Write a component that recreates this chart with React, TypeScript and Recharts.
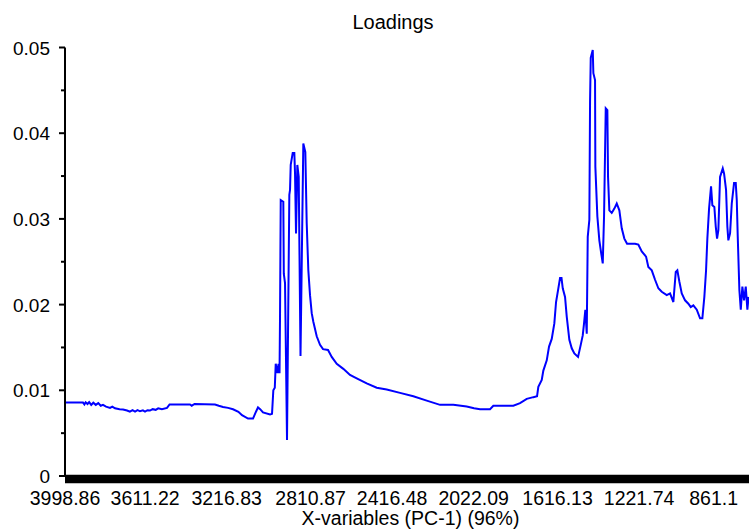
import { LineChart, Line, XAxis, YAxis } from "recharts";

// PC-1 loadings against wavenumber (cm-1), high to low
const wavenumber = [
  3998.9, 3911.8, 3905, 3899, 3890, 3882, 3872, 3862, 3850, 3838, 3826, 3815, 3800.5, 3781.2, 3770,
  3757, 3735, 3718.3, 3698.9, 3685, 3672, 3660, 3648, 3636, 3622, 3611.8, 3600, 3587.6, 3575, 3560,
  3548, 3530, 3505.4, 3493, 3394.1, 3386, 3372, 3273.2, 3255, 3234.5, 3210, 3186.1, 3160, 3142.6,
  3113.5, 3089.4, 3075, 3065.2, 3055, 3041, 3007.1, 2997.4, 2991.1, 2984, 2979.5, 2970.8, 2966,
  2961.1, 2958.7, 2955.3, 2942.8, 2940.4, 2934.5, 2924.9, 2913.7, 2910.3, 2907, 2897.3, 2889.5,
  2886.2, 2881.3, 2875, 2868.3, 2859.6, 2846, 2836.3, 2829.6, 2821.8, 2813.6, 2805.4, 2797.6, 2781.2,
  2765.2, 2750.7, 2726.5, 2708.6, 2684.4, 2652.5, 2620.1, 2587.7, 2539.3, 2490.9, 2442.5, 2378.2,
  2313.8, 2249.0, 2184.6, 2120.3, 2055.5, 2020, 1991.1, 1942.7, 1926.8, 1830.0, 1797.6, 1765.2,
  1733.3, 1715.4, 1709.1, 1692.6, 1684.9, 1668.4, 1657.3, 1644.3, 1631.7, 1623.4, 1612.3, 1604.1,
  1597, 1591.0, 1579.9, 1571.7, 1559.1, 1547.5, 1534.9, 1517.0, 1504.0, 1494.3, 1488.0, 1481.7,
  1474.9, 1470.1, 1462.3, 1458.9, 1455.6, 1445.9, 1442.9, 1434.8, 1433.3, 1423.6, 1414.0, 1405.7,
  1397.5, 1391.2, 1383.0, 1375.2, 1371.9, 1365.6, 1354.0, 1341.4, 1329.8, 1317.2, 1305.6, 1293.0,
  1279.9, 1241.2, 1225.3, 1208.8, 1188.0, 1176.9, 1160.4, 1144.5, 1128.5, 1112.1, 1087.9, 1071.9,
  1055.9, 1044.3, 1036.6, 1027.0, 1015.3, 999.3, 983.4, 971.8, 959.2, 942.7, 926.8, 915.6, 906.0,
  897.7, 891.5, 883.2, 873.6, 867.3, 857.6, 850.8, 844.5, 838.2, 830.0, 817.0, 810.7, 801.0, 794.7,
  789.9, 781.6, 773.4, 762.3, 754.1, 749.2, 744.4, 736.6, 729.8, 722.1, 713.9, 705.7, 697.9, 692.1,
];

const pc1Loading = [
  0.00857, 0.00857, 0.00835, 0.0086, 0.0084, 0.00862, 0.0083, 0.00855, 0.0083, 0.0085, 0.0082, 0.0083,
  0.0081, 0.00794, 0.0081, 0.0079, 0.00778, 0.00776, 0.00764, 0.0075, 0.00768, 0.00752, 0.00768,
  0.00755, 0.00766, 0.00752, 0.00768, 0.00764, 0.0078, 0.00772, 0.0079, 0.0078, 0.00794, 0.00834,
  0.00834, 0.0082, 0.0084, 0.00834, 0.0082, 0.00806, 0.00795, 0.00779, 0.0075, 0.00709, 0.0067,
  0.0067, 0.0075, 0.008, 0.0078, 0.00741, 0.00717, 0.00725, 0.01, 0.0103, 0.0131, 0.012, 0.0131,
  0.012, 0.0186, 0.0322, 0.032, 0.0236, 0.0225, 0.0042, 0.0328, 0.0334, 0.0363, 0.0377, 0.0377,
  0.0354, 0.0283, 0.0363, 0.0349, 0.014, 0.0388, 0.0378, 0.0295, 0.024, 0.0211, 0.019, 0.018, 0.0163,
  0.0153, 0.0148, 0.0147, 0.0139, 0.0131, 0.0125, 0.0118, 0.0114, 0.0108, 0.0103, 0.0101, 0.0097,
  0.0093, 0.0088, 0.0083, 0.0083, 0.0081, 0.0079, 0.0078, 0.0078, 0.0082, 0.0082, 0.0085, 0.009,
  0.0092, 0.0093, 0.0104, 0.0112, 0.0123, 0.0135, 0.0151, 0.016, 0.0178, 0.0203, 0.0219, 0.0231,
  0.0231, 0.0219, 0.0209, 0.0186, 0.0159, 0.0149, 0.0143, 0.0139, 0.0153, 0.0164, 0.0178, 0.0194,
  0.0166, 0.0279, 0.0299, 0.0437, 0.0488, 0.0497, 0.047, 0.0462, 0.0361, 0.0303, 0.0275, 0.0261,
  0.0248, 0.0303, 0.0429, 0.0427, 0.0349, 0.031, 0.0307, 0.0312, 0.0318, 0.031, 0.0289, 0.0277,
  0.0271, 0.0271, 0.027, 0.0262, 0.0256, 0.0244, 0.024, 0.0229, 0.0219, 0.0215, 0.0211, 0.0213,
  0.0203, 0.0238, 0.024, 0.0227, 0.0213, 0.0205, 0.0201, 0.0197, 0.0199, 0.0194, 0.0184, 0.0184,
  0.0209, 0.024, 0.0277, 0.0312, 0.0338, 0.0316, 0.0314, 0.0291, 0.0277, 0.0287, 0.0349, 0.0359,
  0.0353, 0.0334, 0.0291, 0.0275, 0.0283, 0.0318, 0.0342, 0.0342, 0.0322, 0.0279, 0.0217, 0.0194,
  0.0221, 0.0205, 0.0221, 0.0194, 0.0209,
];

const xTickLabels = [3998.86, 3611.22, 3216.83, 2810.87, 2416.48, 2022.09, 1616.13, 1221.74, 861.1];
const yMajorTicks = [0, 0.01, 0.02, 0.03, 0.04, 0.05];
const yMinorTicks = [0.005, 0.015, 0.025, 0.035, 0.045];

const data = wavenumber.map((wn, i) => ({ wn, loading: pc1Loading[i] }));

const FONT = '"Liberation Sans", Arial, sans-serif';

function YTick({ x, y, payload }: any) {
  const major = yMajorTicks.includes(payload.value);
  return (
    <g>
      <line x1={x - (major ? 6 : 4)} x2={x} y1={y} y2={y} stroke="#000" strokeWidth={2} />
      {major && (
        <text x={x - 15} y={y + 7} textAnchor="end" fontSize={19} fontFamily={FONT} fill="#000">
          {String(payload.value)}
        </text>
      )}
    </g>
  );
}

function XTick({ x, y, payload }: any) {
  return (
    <text x={x} y={y + 29} textAnchor="middle" fontSize={19.5} fontFamily={FONT} fill="#000">
      {String(payload.value)}
    </text>
  );
}

export default function App() {
  return (
    <div style={{ position: "absolute", left: 0, top: 0, width: 749, height: 531, background: "#fff" }}>
      <LineChart width={749} height={531} data={data} margin={{ top: 47.5, right: 0, bottom: 0, left: 0 }}>
        <XAxis
          dataKey="wn"
          type="number"
          domain={[690, 3998.86]}
          reversed
          ticks={xTickLabels}
          interval={0}
          height={55}
          tickSize={0}
          tickMargin={0}
          tickLine={false}
          tick={<XTick />}
          axisLine={{ stroke: "#000", strokeWidth: 8.5, transform: "translate(0 3)" }}
        />
        <YAxis
          type="number"
          domain={[0, 0.05]}
          ticks={[...yMajorTicks, ...yMinorTicks].sort((a, b) => a - b)}
          interval={0}
          width={65}
          tickSize={0}
          tickMargin={0}
          tickLine={false}
          tick={<YTick />}
          axisLine={{ stroke: "#000", strokeWidth: 2 }}
        />
        <Line
          type="linear"
          dataKey="loading"
          stroke="#0000ff"
          strokeWidth={2}
          dot={false}
          isAnimationActive={false}
        />
      </LineChart>
      <svg width={749} height={531} style={{ position: "absolute", left: 0, top: 0, pointerEvents: "none" }}>
        <text x={393} y={29} textAnchor="middle" fontSize={20} fontFamily={FONT} fill="#000">
          Loadings
        </text>
        <text x={410.5} y={525} textAnchor="middle" fontSize={19.5} fontFamily={FONT} fill="#000">
          X-variables (PC-1) (96%)
        </text>
      </svg>
    </div>
  );
}
